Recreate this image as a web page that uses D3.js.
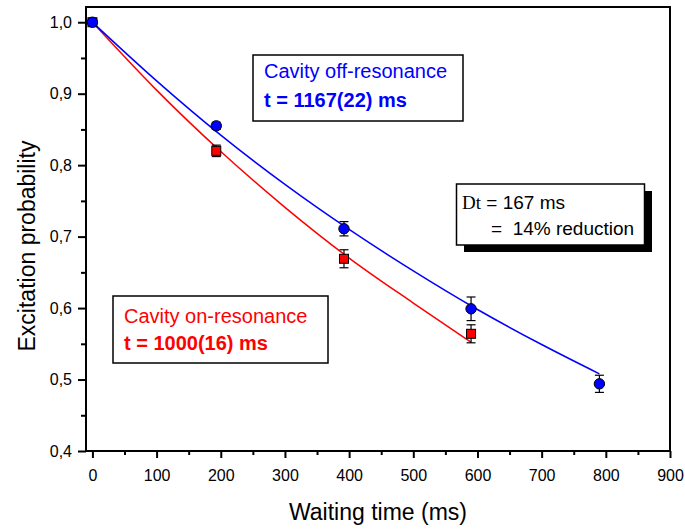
<!DOCTYPE html>
<html>
<head>
<meta charset="utf-8">
<script src="https://cdn.jsdelivr.net/npm/d3@7"></script>
<style>
  body { margin: 0; background: #fff; }
  text { font-family: "Liberation Sans", Arial, sans-serif; }
</style>
</head>
<body>
<svg id="chart" width="685" height="531"></svg>
<script>
// --- data ---
var tempsOff = [0, 193, 392, 590, 790];
var probOff = [1.0, 0.855, 0.711, 0.599, 0.494];
var errOff = [0, 0.005, 0.010, 0.0165, 0.012];

var tempsOn = [0, 193, 392, 590];
var probOn = [1.0, 0.820, 0.669, 0.564];
var errOn = [0, 0.008, 0.0126, 0.0126];

// fitted curves
var fitOffT = [0, 100, 200, 300, 400, 500, 600, 700, 790];
var fitOffP = [1.0, 0.918, 0.842, 0.773, 0.710, 0.652, 0.598, 0.549, 0.508];
var fitOnT = [0, 100, 200, 300, 400, 500, 590];
var fitOnP = [1.0, 0.905, 0.819, 0.741, 0.670, 0.607, 0.552];

var xTicks = [0, 100, 200, 300, 400, 500, 600, 700, 800, 900];
var xMinor = [50, 150, 250, 350, 450, 550, 650, 750, 850];
var yTicks = [0.4, 0.5, 0.6, 0.7, 0.8, 0.9, 1.0];
var yMinor = [0.45, 0.55, 0.65, 0.75, 0.85, 0.95];

var svg = d3.select("#chart");
svg.append("rect").attr("width", 685).attr("height", 531).attr("fill", "white");

var x = d3.scaleLinear().domain([-10, 900]).range([86, 670]);
var y = d3.scaleLinear().domain([0.4, 1.0213]).range([451, 7]);

var virgule = function(d){ return d3.format(".1f")(d).replace(".", ","); };

// --- axes ---
var gx = svg.append("g").attr("transform", "translate(0,451)")
    .call(d3.axisBottom(x).tickValues(xTicks).tickSize(7).tickPadding(12));
var gxm = svg.append("g").attr("transform", "translate(0,451)")
    .call(d3.axisBottom(x).tickValues(xMinor).tickSize(4).tickFormat(""));
var gy = svg.append("g").attr("transform", "translate(86,0)")
    .call(d3.axisLeft(y).tickValues(yTicks).tickSize(8).tickPadding(6).tickFormat(virgule));
var gym = svg.append("g").attr("transform", "translate(86,0)")
    .call(d3.axisLeft(y).tickValues(yMinor).tickSize(5).tickFormat(""));

[gx, gxm, gy, gym].forEach(function(g){
    g.select(".domain").remove();
    g.selectAll("line").attr("stroke", "black").attr("stroke-width", 2);
    g.selectAll("text").attr("font-size", 16).attr("fill", "black")
        .style("font-family", "'Liberation Sans', Arial, sans-serif");
});

// cadre
svg.append("rect")
    .attr("x", 86).attr("y", 7)
    .attr("width", 670 - 86).attr("height", 451 - 7)
    .attr("fill", "none").attr("stroke", "black").attr("stroke-width", 2);

svg.append("text")
    .attr("x", 378).attr("y", 520)
    .attr("text-anchor", "middle").attr("font-size", 23)
    .text("Waiting time (ms)");

svg.append("text")
    .attr("transform", "translate(35,246) rotate(-90)")
    .attr("text-anchor", "middle").attr("font-size", 23)
    .text("Excitation probability");

// --- fit curves ---
var ligne = d3.line().curve(d3.curveMonotoneX)
    .x(function(d){ return x(d[0]); })
    .y(function(d){ return y(d[1]); });

svg.append("path")
    .attr("d", ligne(d3.zip(fitOnT, fitOnP)))
    .attr("fill", "none").attr("stroke", "#ff0000").attr("stroke-width", 1.5);
svg.append("path")
    .attr("d", ligne(d3.zip(fitOffT, fitOffP)))
    .attr("fill", "none").attr("stroke", "#0000ff").attr("stroke-width", 1.5);

// --- error bars ---
function barres(ts, ps, es){
    for (var i = 0; i < ts.length; i++){
        if (es[i] == 0) continue;
        var cx = x(ts[i]);
        var y1 = y(ps[i] + es[i]), y2 = y(ps[i] - es[i]);
        var g = svg.append("g").attr("stroke", "black").attr("stroke-width", 1.2);
        g.append("line").attr("x1", cx).attr("x2", cx).attr("y1", y1).attr("y2", y2);
        g.append("line").attr("x1", cx - 4.5).attr("x2", cx + 4.5).attr("y1", y1).attr("y2", y1);
        g.append("line").attr("x1", cx - 4.5).attr("x2", cx + 4.5).attr("y1", y2).attr("y2", y2);
    }
}
barres(tempsOn, probOn, errOn);
barres(tempsOff, probOff, errOff);

// --- markers ---
svg.selectAll("rect.on")
    .data(d3.zip(tempsOn, probOn))
    .enter().append("rect").attr("class", "on")
    .attr("x", function(d){ return x(d[0]) - 4.5; })
    .attr("y", function(d){ return y(d[1]) - 4.5; })
    .attr("width", 9).attr("height", 9)
    .attr("fill", "#ff0000").attr("stroke", "black").attr("stroke-width", 1);

svg.selectAll("circle.off")
    .data(d3.zip(tempsOff, probOff))
    .enter().append("circle").attr("class", "off")
    .attr("cx", function(d){ return x(d[0]); })
    .attr("cy", function(d){ return y(d[1]); })
    .attr("r", 5.2)
    .attr("fill", "#0000ff").attr("stroke", "black").attr("stroke-width", 1);

// --- annotation boxes ---
function boite(x0, y0, w, h, couleur, l1, l2, b1, b2){
    svg.append("rect").attr("x", x0).attr("y", y0).attr("width", w).attr("height", h)
        .attr("fill", "white").attr("stroke", "black").attr("stroke-width", 1.5);
    svg.append("text").attr("x", x0 + 11).attr("y", b1)
        .attr("font-size", 20).attr("fill", couleur).text(l1);
    svg.append("text").attr("x", x0 + 11).attr("y", b2)
        .attr("font-size", 20).attr("font-weight", "bold").attr("fill", couleur).text(l2);
}
boite(253, 55, 210, 66, "#0000ff", "Cavity off-resonance", "t = 1167(22) ms", 78, 107);
boite(113, 296, 215, 67, "#ff0000", "Cavity on-resonance", "t = 1000(16) ms", 323, 350);

// boite avec ombre
svg.append("rect").attr("x", 464).attr("y", 191).attr("width", 188).attr("height", 61).attr("fill", "black");
svg.append("rect").attr("x", 456.5).attr("y", 184).attr("width", 188).attr("height", 61)
    .attr("fill", "white").attr("stroke", "black").attr("stroke-width", 1.5);
var t1 = svg.append("text").attr("x", 462).attr("y", 209).attr("font-size", 19);
t1.append("tspan").style("font-family", "'Liberation Serif', serif").text("Dt");
t1.append("tspan").text(" = 167 ms");
svg.append("text").attr("x", 491).attr("y", 235).attr("font-size", 19)
    .attr("xml:space", "preserve").text("=  14% reduction");
</script>
</body>
</html>
